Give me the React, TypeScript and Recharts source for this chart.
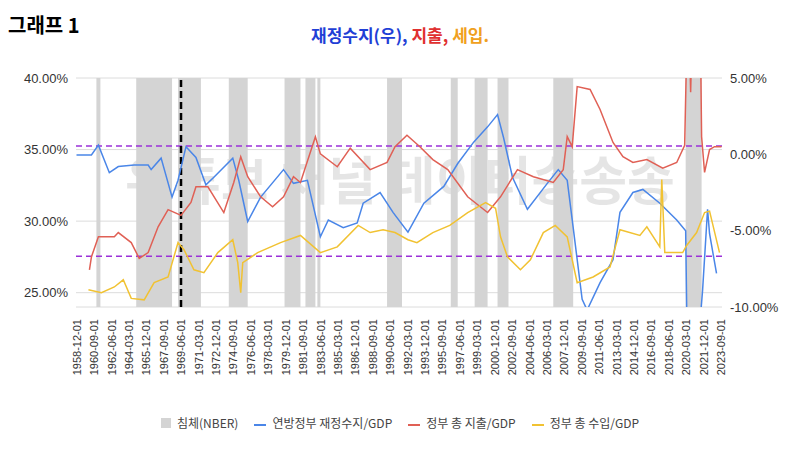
import { ComposedChart, Line, XAxis, YAxis, CartesianGrid, ReferenceArea, ReferenceLine } from "recharts";

// x values are decimal years
const balanceX = [1958.9, 1960.4, 1961.1, 1962.2, 1963.1, 1964.7, 1966.1, 1966.4, 1967.4, 1968.5, 1969.1, 1969.9, 1970.9, 1971.9, 1972.7, 1974.6, 1975.2, 1976.1, 1977.4, 1979.7, 1980.7, 1982.1, 1983.4, 1984.2, 1985.7, 1987.1, 1987.7, 1989.4, 1990.7, 1992.2, 1993.8, 1995.8, 1997.2, 1998.8, 2000.2, 2001.2, 2001.8, 2002.7, 2004.2, 2006.2, 2007.3, 2008.2, 2008.8, 2009.7, 2010.2, 2011.5, 2012.8, 2013.5, 2014.8, 2015.8, 2017.5, 2019.2, 2020.1, 2020.3, 2021.3, 2021.8, 2022.3, 2022.5, 2023.2];
const balanceY = [-0.04, -0.04, 0.6, -1.2, -0.8, -0.7, -0.7, -1.0, -0.25, -2.8, -1.7, 0.5, -0.2, -2.0, -1.5, -0.25, -1.7, -4.4, -2.8, -1.0, -1.9, -1.7, -5.4, -4.3, -4.8, -4.5, -3.2, -2.5, -3.8, -5.1, -3.2, -2.1, -0.6, 0.8, 1.8, 2.6, 1.1, -1.5, -3.6, -1.9, -1.0, -1.7, -4.8, -9.5, -10.2, -8.4, -6.9, -3.8, -2.5, -2.3, -3.2, -4.3, -5.0, -15, -13, -8.9, -3.6, -5.2, -7.8];

const spendX = [1960.2, 1960.4, 1961.1, 1962.7, 1963.1, 1964.4, 1965.2, 1966.1, 1967.1, 1968.1, 1969.4, 1970.4, 1970.9, 1972.1, 1973.7, 1974.7, 1975.4, 1976.1, 1977.4, 1978.6, 1979.7, 1980.7, 1981.4, 1982.9, 1983.4, 1985.1, 1986.4, 1988.4, 1990.1, 1990.9, 1992.1, 1993.4, 1994.7, 1996.2, 1998.2, 2000.2, 2001.5, 2003.2, 2004.8, 2006.8, 2007.8, 2008.2, 2008.7, 2009.2, 2010.5, 2011.5, 2012.8, 2013.8, 2014.8, 2016.2, 2017.8, 2019.2, 2020.0, 2020.2, 2020.5, 2020.6, 2020.7, 2021.6, 2021.7, 2022.0, 2022.5, 2023.0, 2023.7];
const spendY = [26.6, 27.5, 28.9, 28.9, 29.2, 28.5, 27.4, 27.8, 29.6, 30.8, 30.4, 31.3, 32.4, 32.4, 30.6, 32.7, 34.5, 33.1, 31.7, 31.0, 31.7, 33.1, 32.7, 35.9, 34.7, 33.8, 35.1, 33.6, 34.1, 35.2, 36.0, 35.2, 34.3, 33.6, 31.7, 30.6, 31.7, 33.6, 33.1, 32.7, 33.6, 35.9, 35.2, 39.4, 39.2, 37.8, 35.5, 34.5, 34.1, 34.3, 33.7, 34.1, 35.3, 42, 42, 39.0, 42, 42, 35.9, 33.4, 35.0, 35.2, 35.2];

const revX = [1960.1, 1961.4, 1962.7, 1963.6, 1964.4, 1965.7, 1966.7, 1968.1, 1969.1, 1969.7, 1970.7, 1971.7, 1973.1, 1974.6, 1975.1, 1975.4, 1975.6, 1977.1, 1979.4, 1981.4, 1983.4, 1985.1, 1987.2, 1988.4, 1989.7, 1990.9, 1992.2, 1993.1, 1994.7, 1996.4, 1998.2, 2000.0, 2001.0, 2001.5, 2002.2, 2003.5, 2004.5, 2005.8, 2007.0, 2008.2, 2009.2, 2010.8, 2012.5, 2013.5, 2015.5, 2016.2, 2017.5, 2017.7, 2018.0, 2019.8, 2020.2, 2021.2, 2022.0, 2022.5, 2023.5];
const revY = [25.2, 25.0, 25.4, 25.9, 24.6, 24.5, 25.7, 26.1, 28.5, 28.0, 26.6, 26.4, 27.8, 28.7, 27.1, 25.0, 27.1, 27.8, 28.5, 29.0, 27.8, 28.2, 29.7, 29.2, 29.4, 29.2, 28.7, 28.5, 29.2, 29.7, 30.6, 31.3, 30.9, 28.9, 27.5, 26.6, 27.3, 29.2, 29.7, 28.9, 25.7, 26.1, 26.8, 29.4, 29.0, 29.6, 28.2, 32.9, 27.8, 27.8, 28.3, 29.2, 30.6, 30.7, 27.8];

const recessionStart = [1960.9, 1964.9, 1969.1, 1974.2, 1979.8, 1981.9, 1983.1, 1990.1, 1996.5, 1998.9, 2001.2, 2006.8, 2020.1];
const recessionEnd = [1961.3, 1968.5, 1971.4, 1976.1, 1981.4, 1982.9, 1983.4, 1991.6, 1997.2, 2000.2, 2002.3, 2008.8, 2021.7];

const tickLabels = ["1958-12-01", "1960-09-01", "1962-06-01", "1964-03-01", "1965-12-01", "1967-09-01", "1969-06-01", "1971-03-01", "1972-12-01", "1974-09-01", "1976-06-01", "1978-03-01", "1979-12-01", "1981-09-01", "1983-06-01", "1985-03-01", "1986-12-01", "1988-09-01", "1990-06-01", "1992-03-01", "1993-12-01", "1995-09-01", "1997-06-01", "1999-03-01", "2000-12-01", "2002-09-01", "2004-06-01", "2006-03-01", "2007-12-01", "2009-09-01", "2011-06-01", "2013-03-01", "2014-12-01", "2016-09-01", "2018-06-01", "2020-03-01", "2021-12-01", "2023-09-01"];
const leftTicks = [25, 30, 35, 40];
const rightTicks = [-10, -5, 0, 5];

const toYear = (s: string) => Number(s.slice(0, 4)) + (Number(s.slice(5, 7)) - 1) / 12;
const tickYears = tickLabels.map(toYear);
const labelOf = (v: number) => tickLabels[tickYears.findIndex((t) => Math.abs(t - v) < 0.01)] ?? "";

const balance = balanceX.map((x, i) => ({ x, v: balanceY[i] }));
const spend = spendX.map((x, i) => ({ x, v: spendY[i] }));
const rev = revX.map((x, i) => ({ x, v: revY[i] }));

const BLUE = "#4a86e8";
const RED = "#e06055";
const YELLOW = "#f1c232";
const GREY = "#d4d4d4";
const font = "'Liberation Sans', Arial, sans-serif";

const XTick = (props: any) => {
  const { x, y, payload } = props;
  return (
    <text x={x} y={y + 4} transform={`rotate(-90 ${x} ${y + 4})`} textAnchor="end" dominantBaseline="central" fontSize={11} fill="#333" fontFamily={font}>
      {labelOf(payload.value)}
    </text>
  );
};

export default function App() {
  return (
    <div style={{ position: "absolute", left: 0, top: 0, width: 800, height: 450, background: "#fff", fontFamily: font }}>
      <div style={{ position: "absolute", left: 8, top: 10, fontSize: 20, fontWeight: "bold", fontFamily: "'Noto Sans CJK KR', sans-serif" }}>그래프 1</div>
      <div style={{ position: "absolute", left: 0, width: 800, top: 22, textAlign: "center", fontSize: 17, fontWeight: "bold", fontFamily: "'Noto Sans CJK KR', sans-serif" }}>
        <span style={{ color: "#1f3fd6" }}>재정수지(우), </span>
        <span style={{ color: "#e03030" }}>지출, </span>
        <span style={{ color: "#f0a020" }}>세입.</span>
      </div>
      <div style={{ position: "absolute", left: 0, top: 0 }}>
        <ComposedChart width={800} height={450} margin={{ top: 78, right: 0, bottom: 73, left: 0 }}>
          <CartesianGrid vertical={false} stroke="#dcdcdc" yAxisId="l" />
          {recessionStart.map((s, i) => (
            <ReferenceArea key={i} yAxisId="l" x1={s} x2={recessionEnd[i]} y1={24} y2={40} fill={GREY} fillOpacity={1} stroke="none" ifOverflow="hidden" />
          ))}
          <XAxis dataKey="x" type="number" domain={[1958.85, 2023.75]} ticks={tickYears} tick={<XTick />} interval={0} height={70} axisLine={false} tickLine={false} allowDuplicatedCategory={false} />
          <YAxis yAxisId="l" domain={[24, 40]} ticks={leftTicks} allowDataOverflow width={76} axisLine={false} tickLine={false} tickFormatter={(v) => v.toFixed(2) + "%"} tick={{ fontSize: 13, fill: "#333", fontFamily: font }} />
          <YAxis yAxisId="r" orientation="right" domain={[-10, 5]} ticks={rightTicks} allowDataOverflow width={78} axisLine={false} tickLine={false} tickFormatter={(v) => v.toFixed(2) + "%"} tick={{ fontSize: 13, fill: "#333", fontFamily: font }} />
          <text x={400} y={200} textAnchor="middle" fontSize={52} fontWeight="bold" fill="#000" fillOpacity={0.1} fontFamily="'Noto Sans CJK KR', sans-serif">유튜브 채널 데이터송송송</text>
          <ReferenceLine yAxisId="l" y={35.25} stroke="#9b30d9" strokeDasharray="6 4" strokeWidth={1.5} />
          <ReferenceLine yAxisId="l" y={27.55} stroke="#9b30d9" strokeDasharray="6 4" strokeWidth={1.5} />
          <ReferenceLine yAxisId="l" x={1969.4} stroke="#000" strokeDasharray="7 4" strokeWidth={2.5} />
          <Line yAxisId="r" data={balance} dataKey="v" stroke={BLUE} strokeWidth={1.5} dot={false} isAnimationActive={false} />
          <Line yAxisId="l" data={spend} dataKey="v" stroke={RED} strokeWidth={1.5} dot={false} isAnimationActive={false} />
          <Line yAxisId="l" data={rev} dataKey="v" stroke={YELLOW} strokeWidth={1.5} dot={false} isAnimationActive={false} />
        </ComposedChart>
      </div>
      <div style={{ position: "absolute", top: 414, left: 0, width: 800, display: "flex", justifyContent: "center", gap: 16, fontSize: 12, color: "#444", fontFamily: "'Noto Sans CJK KR', sans-serif" }}>
        <span><span style={{ display: "inline-block", width: 10, height: 10, background: GREY, marginRight: 6 }} />침체(NBER)</span>
        <span><span style={{ display: "inline-block", width: 12, height: 2, background: BLUE, marginRight: 6, verticalAlign: "middle" }} />연방정부 재정수지/GDP</span>
        <span><span style={{ display: "inline-block", width: 12, height: 2, background: RED, marginRight: 6, verticalAlign: "middle" }} />정부 총 지출/GDP</span>
        <span><span style={{ display: "inline-block", width: 12, height: 2, background: YELLOW, marginRight: 6, verticalAlign: "middle" }} />정부 총 수입/GDP</span>
      </div>
    </div>
  );
}
